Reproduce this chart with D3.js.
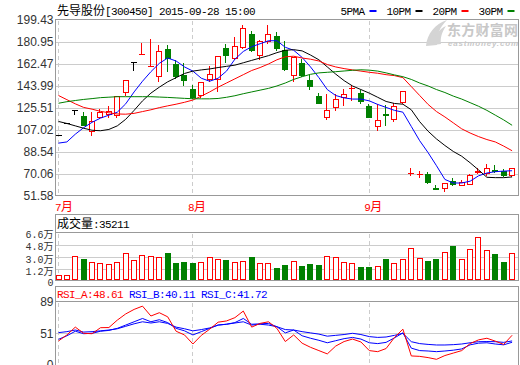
<!DOCTYPE html>
<html>
<head>
<meta charset="utf-8">
<script src="https://cdn.jsdelivr.net/npm/d3@7"></script>
<style>
  body { margin: 0; background: #fff; }
  svg { display: block; }
</style>
</head>
<body>
<div id="chart"></div>
<script>
// ---- data ----
const stockName = '先导股份';
const stockCode = '300450';
const stamp = '15:00';

const dates = [
  '2015-07-10','2015-07-13','2015-07-14','2015-07-15','2015-07-16','2015-07-17','2015-07-20','2015-07-21',
  '2015-07-22','2015-07-23','2015-07-24','2015-07-27','2015-07-28','2015-07-29','2015-07-30','2015-07-31',
  '2015-08-03','2015-08-04','2015-08-05','2015-08-06','2015-08-07','2015-08-10','2015-08-11','2015-08-12',
  '2015-08-13','2015-08-14','2015-08-17','2015-08-18','2015-08-19','2015-08-20','2015-08-21','2015-08-24',
  '2015-08-25','2015-08-26','2015-08-27','2015-08-28','2015-08-31',
  '2015-09-01','2015-09-02','2015-09-07','2015-09-08','2015-09-09','2015-09-10','2015-09-11','2015-09-14',
  '2015-09-15','2015-09-16','2015-09-17','2015-09-18','2015-09-21','2015-09-22','2015-09-23','2015-09-24',
  '2015-09-25','2015-09-28'
];

const openP  = [102.5,112.75,124.0,118.5,105.9,117.7,120.5,120.0,138.7,163.9,170.6,160.8,152.1,175.1,162.5,153.5,
                141.7,136.2,150.1,150.1,175.9,167.5,176.5,187.7,169.8,182.0,185.7,174.5,153.5,163.3,149.3,135.6,
                118.2,126.1,135.0,142.0,138.1,127.4,110.1,120.5,116.3,130.3,70.7,69.9,70.1,58.4,58.3,64.0,
                61.2,62.0,72.0,70.9,73.8,72.8,69.0];
const highP  = [102.5,112.75,124.0,121.9,122.0,124.5,127.0,135.5,149.2,163.9,180.2,183.7,178.2,178.5,166.1,163.3,
                145.1,147.5,161.1,169.2,179.3,185.1,195.5,190.4,182.9,195.0,189.3,182.0,168.5,166.9,153.0,138.1,
                137.3,137.3,141.5,145.1,140.9,129.0,128.9,127.7,129.7,140.0,75.1,72.3,71.7,61.1,62.7,66.7,
                65.3,69.8,75.1,78.4,77.6,74.5,75.3];
const lowP   = [102.5,112.75,120.3,111.2,102.5,117.0,118.0,118.0,136.2,157.7,170.6,160.8,147.9,156.3,151.0,144.6,
                134.3,134.5,147.9,140.2,163.9,167.0,176.0,173.5,166.9,180.1,174.5,157.7,148.4,152.5,141.7,130.0,
                116.5,124.1,127.7,132.5,129.7,117.9,107.3,111.5,114.8,130.0,69.5,67.3,62.5,57.4,56.0,60.6,
                60.6,61.3,70.8,69.5,71.8,68.5,68.5];
const closeP = [102.5,112.75,124.0,111.5,114.3,121.9,122.7,135.3,149.0,163.9,171.0,161.2,173.1,167.5,152.7,149.3,
                134.5,147.1,154.0,168.9,169.8,177.3,192.7,174.0,181.5,187.7,175.9,158.5,168.0,153.0,144.2,130.0,
                123.6,132.8,137.0,142.5,131.6,117.9,115.2,119.6,126.9,139.5,71.0,70.2,63.4,57.4,62.5,61.3,
                63.2,69.5,72.3,75.1,72.4,68.9,75.0];
const volume = [3600,3600,31400,27000,22000,20700,19300,22000,36200,25500,32400,30900,30000,35800,21200,22600,
                21200,22200,29500,27000,25500,22200,23600,30000,20700,20700,13900,18200,23600,16800,19700,18200,
                30900,30000,22200,20700,15300,15300,16800,27000,20700,27000,42600,28500,24100,27000,37200,46000,
                27000,41100,58700,39700,34300,22600,35211];

const ma5  = [96,97,103.5,109,113.5,117,119.5,122,129,139,148,156,163,167.5,165,160,
              156.5,150.5,148,150.5,156.5,166.5,173,177,179.5,182,182,176.5,174,168,160,151,
              141,136,134,133,133,131.5,128.5,126,123.5,122,110,98,88,77,65.5,62.5,
              62.5,64,68.5,70.9,72,72.5,72.8];
const ma10 = [114.2,112.5,110.5,108.5,106.8,106.4,107.5,110.5,116,123.5,131.5,138,143,147.5,151,154.5,
              156.5,157.5,158.3,159.5,160.5,161.5,163.5,165.5,167.5,169.5,172,174,174.5,173.5,170,166,
              160,154,148.5,144,141,138,134.5,131,129.3,128.7,124,114,106,99.5,94,89,
              85,79.5,73.5,67.3,67,67,67.6];
const ma20 = [136,132.5,129,126,124.5,122.7,121.5,120.5,120.3,121,122.5,124,125.8,127.3,128.7,130.3,
              132.2,135.5,139,143,146.5,150,153.5,157,159.5,162.5,166,168.5,169,167.5,166.5,165,
              162,160,158.6,157.5,156.5,155.5,154.7,153.5,152.7,151,143.5,136,128.5,122.5,118,113,
              108,104.5,101.5,99,97,93.5,89.6];
const ma30 = [129.5,130.8,131.8,132.7,133.4,134.2,134.6,135,135,135,135,135,134.7,134.4,134,133.6,
              133.3,133.2,133.2,133.5,134.5,135.8,137.5,139,140.5,142,144,146.5,149.5,151.8,153.8,155,
              155.5,156,156.6,157.2,157.6,157.3,156.5,155,153.3,151.8,149.5,146.5,144,141,138.5,135.5,
              133,130,127,123.5,119.5,115.5,111];

const rsiA = [41.7,49,58.5,51,50.5,57.8,58,67,74.5,80,84,72,76,71,53.5,49,
              38,48.5,56,64.5,66,70,78,58.5,63,65,57,41,49,39,34,30,
              26,35.5,41,44,40.5,30,28.7,32.5,46,56,23.5,23,21.5,19.4,24,27,
              30,38.5,43,45,41.5,37.5,48.61];
const rsiB = [43.7,48,53.5,50.5,51,53.5,54.5,57,61,65,69,65,67.5,64,57,54,
              49,53,57,61,62,64,69,62,62.5,63,59,51.5,55,48,45,42.5,
              39.5,42,44.5,46,44,39.5,38.5,40,45.5,51.5,33,30,29.5,28.7,29.5,30.5,
              32,37,39,39.5,38,37,40.11];
const rsiC = [51.8,53,55,52.5,53,54,55,56.5,59.5,62.5,65,63.5,65,63,58.5,56.5,
              54,55.5,57.5,61,62,63.5,65,61,62,61,59,55.5,55,53,51.5,50,
              47.5,48.5,49.5,51,49.5,47,46,46.5,48.5,51,40.8,38.5,37.5,36.8,36.8,37.2,
              38,39.5,40.8,41,40.8,40,41.72];

const priceTicks = [199.43, 180.95, 162.47, 143.99, 125.51, 107.02, 88.54, 70.06, 51.58];
const volTicks = [66000, 48000, 30000, 12000, 0];
const volTickLabels = ['6.6万', '4.8万', '3.0万', '1.2万', '0'];
const rsiTicks = [89, 51, 13];
const rsiTickLabels = ['89', '51', '0'];

const maNames = ['5PMA', '10PM', '20PM', '30PM'];
const maColors = ['#0000ff', '#000000', '#ff0000', '#008000'];

// ---- drawing ----
const RED = '#ff0000', GREEN = '#008000', BLUE = '#0000ff';
const MONO = "'Liberation Mono', 'DejaVu Sans Mono', monospace";
const CJK = "'Noto Sans CJK SC', sans-serif";
const SANS = "'Liberation Sans', Arial, sans-serif";

const width = 520, height = 365;
const L = 55.5, R = 518.5;
const n = dates.length;

const svg = d3.select('#chart').append('svg')
  .attr('width', width)
  .attr('height', height);

const crisp = v => Math.round(v) + 0.5;

const x = d3.scaleBand().domain(d3.range(n)).range([54.3, 516.3]);
const cx = i => x(i) + x.bandwidth() / 2;

const yP = d3.scaleLinear().domain([51.58, 199.43]).range([196, 20]);
const yV = d3.scaleLinear().domain([0, 66000]).range([277.5, 232.3]);
const yR = d3.scaleLinear().domain([13, 89]).range([364.6, 302]);

// text with CJK and latin runs
function mixed(sel, str, cjkSize, monoSize) {
  const runs = str.match(/[\u3000-\u9fff]+|[^\u3000-\u9fff]+/g);
  const ms = monoSize || 11;
  runs.forEach(r => {
    const cjk = /[\u3000-\u9fff]/.test(r);
    sel.append('tspan')
      .attr('font-family', cjk ? CJK : MONO)
      .attr('font-size', cjk ? (cjkSize || 12) : ms)
      .attr('letter-spacing', cjk ? 0 : (ms - 10) * -0.6)
      .text(r);
  });
  return sel;
}

// month starts
const monthStarts = dates.map((d, i) => i).filter(i => i === 0 || dates[i].slice(5, 7) !== dates[i - 1].slice(5, 7));

const panels = [
  {top: 19.5, bottom: 195.5, plotTop: 20},
  {top: 214.5, bottom: 280.5, plotTop: 232.5},
  {top: 286.5, bottom: 370, plotTop: 301.5}
];

// grids
const grid = svg.append('g').attr('stroke', '#cccccc').attr('shape-rendering', 'crispEdges');
priceTicks.slice(1, -1).forEach(t => {
  grid.append('line').attr('x1', L).attr('x2', R).attr('y1', crisp(yP(t))).attr('y2', crisp(yP(t)));
});
volTicks.slice(1, -1).forEach(t => {
  grid.append('line').attr('x1', L).attr('x2', R).attr('y1', crisp(yV(t))).attr('y2', crisp(yV(t)));
});
grid.append('line').attr('x1', L).attr('x2', R).attr('y1', crisp(yR(51))).attr('y2', crisp(yR(51)));

panels.forEach(p => {
  monthStarts.forEach(i => {
    grid.append('line')
      .attr('x1', crisp(cx(i) - 0.5)).attr('x2', crisp(cx(i) - 0.5))
      .attr('y1', p.plotTop + 1).attr('y2', p.bottom)
      .attr('stroke-dasharray', '4,3');
  });
});

// watermark
const wm = svg.append('g');
wm.append('path')
  .attr('d', 'M426,46 C427,34 435,24 447,20 C440,27 436,35 437,45 Z')
  .attr('fill', '#d4d4d4');
wm.append('path')
  .attr('d', 'M433,45 C434,36 439,29 446,26 C442,32 440,38 441,44 Z')
  .attr('fill', '#d4d4d4');
wm.append('text')
  .attr('x', 447).attr('y', 34.5)
  .attr('font-family', CJK).attr('font-size', 14).attr('font-weight', 'bold')
  .attr('fill', '#c8c8c8')
  .attr('textLength', 71)
  .text('东方财富网');
wm.append('text')
  .attr('x', 448).attr('y', 46)
  .attr('font-family', SANS).attr('font-size', 8).attr('font-weight', 'bold').attr('font-style', 'italic')
  .attr('fill', '#c8c8c8')
  .attr('textLength', 70)
  .text('eastmoney.com');

// panel borders
const borders = svg.append('g').attr('fill', 'none').attr('stroke', '#999999').attr('shape-rendering', 'crispEdges');
panels.forEach(p => {
  borders.append('rect').attr('x', L).attr('y', p.top).attr('width', R - L).attr('height', p.bottom - p.top);
});
borders.append('line').attr('x1', L).attr('x2', R).attr('y1', 232.5).attr('y2', 232.5);
borders.append('line').attr('x1', L).attr('x2', R).attr('y1', 301.5).attr('y2', 301.5);

// title
mixed(svg.append('text').attr('x', 57).attr('y', 15).attr('fill', '#000'),
  `${stockName}[${stockCode}] ${dates[n - 1]} ${stamp}`);

// legend
maNames.forEach((name, k) => {
  const lx = 340.5 + k * 46;
  mixed(svg.append('text').attr('x', lx).attr('y', 15).attr('fill', '#000'), name);
  svg.append('rect').attr('x', lx + 29).attr('y', 10).attr('width', 7).attr('height', 2).attr('fill', maColors[k]);
});

// y labels
svg.append('g').selectAll('text').data(priceTicks).join('text')
  .attr('x', 53.5).attr('y', d => Math.min(yP(d), 195.5)).attr('dy', '0.36em')
  .attr('text-anchor', 'end')
  .attr('font-family', SANS).attr('font-size', 12).attr('fill', '#333')
  .text(d => d.toFixed(2));

volTicks.forEach((t, k) => {
  const yy = t === 0 ? 280.5 : yV(t);
  mixed(svg.append('text').attr('x', 53.5).attr('y', yy).attr('dy', '0.36em')
    .attr('text-anchor', 'end').attr('fill', '#333'), volTickLabels[k], 10, 10);
});

svg.append('g').selectAll('text').data(rsiTicks).join('text')
  .attr('x', 53.5).attr('y', d => yR(d)).attr('dy', '0.36em')
  .attr('text-anchor', 'end')
  .attr('font-family', SANS).attr('font-size', 12).attr('fill', '#333')
  .text((d, k) => rsiTickLabels[k]);

// month labels
monthStarts.forEach(i => {
  const label = (+dates[i].slice(5, 7)) + '月';
  mixed(svg.append('text').attr('x', Math.max(cx(i) - 5, 55)).attr('y', 211).attr('fill', RED), label);
});

// headers
mixed(svg.append('text').attr('x', 57).attr('y', 228).attr('fill', '#000'), '成交量:' + volume[n - 1]);
const rh = svg.append('text').attr('x', 57).attr('y', 298)
  .attr('font-family', MONO).attr('font-size', 11).attr('letter-spacing', -0.6);
rh.append('tspan').attr('fill', RED).text('RSI_A:' + rsiA[n - 1].toFixed(2) + ' ');
rh.append('tspan').attr('fill', BLUE).text('RSI_B:' + rsiB[n - 1].toFixed(2) + ' ');
rh.append('tspan').attr('fill', BLUE).text('RSI_C:' + rsiC[n - 1].toFixed(2));

// candles
const bars = dates.map((d, i) => ({i, o: openP[i], h: highP[i], l: lowP[i], c: closeP[i], v: volume[i]}));
const colorOf = d => d.c > d.o ? RED : d.c < d.o ? GREEN : '#000';

const cg = svg.append('g').attr('shape-rendering', 'crispEdges');
bars.forEach(d => {
  const col = colorOf(d);
  const left = Math.round(cx(d.i) - 3);
  const mid = left + 2.5;
  cg.append('line')
    .attr('x1', mid).attr('x2', mid)
    .attr('y1', Math.round(yP(d.h))).attr('y2', Math.round(yP(d.l)) + 1)
    .attr('stroke', col);
  const top = Math.round(yP(Math.max(d.o, d.c)));
  const bot = Math.round(yP(Math.min(d.o, d.c)));
  if (bot - top < 1) {
    cg.append('line')
      .attr('x1', left).attr('x2', left + 6)
      .attr('y1', top + 0.5).attr('y2', top + 0.5)
      .attr('stroke', col);
  } else if (col === RED) {
    cg.append('rect')
      .attr('x', left + 0.5).attr('y', top + 0.5)
      .attr('width', 5).attr('height', bot - top)
      .attr('fill', '#fff').attr('stroke', RED);
  } else {
    cg.append('rect')
      .attr('x', left).attr('y', top)
      .attr('width', 6).attr('height', bot - top + 1)
      .attr('fill', GREEN);
  }
});

// moving averages
const line = d3.line().x((d, i) => cx(i)).y(d => yP(d));
[ma5, ma10, ma20, ma30].forEach((s, k) => {
  svg.append('path').datum(s)
    .attr('d', line)
    .attr('fill', 'none')
    .attr('stroke', maColors[k])
    .attr('stroke-width', 1);
});

// volume
const vg = svg.append('g').attr('shape-rendering', 'crispEdges');
bars.forEach(d => {
  const left = Math.round(cx(d.i) - 3);
  const top = Math.round(yV(d.v));
  if (d.c >= d.o) {
    vg.append('rect')
      .attr('x', left + 0.5).attr('y', top + 0.5)
      .attr('width', 5).attr('height', 279 - top)
      .attr('fill', '#fff').attr('stroke', RED);
  } else {
    vg.append('rect')
      .attr('x', left).attr('y', top)
      .attr('width', 6).attr('height', 280 - top)
      .attr('fill', GREEN);
  }
});

// RSI
const rline = d3.line().x((d, i) => cx(i)).y(d => yR(d));
[[rsiC, BLUE], [rsiB, BLUE], [rsiA, RED]].forEach(([s, col]) => {
  svg.append('path').datum(s)
    .attr('d', rline)
    .attr('fill', 'none')
    .attr('stroke', col)
    .attr('stroke-width', 1);
});
</script>
</body>
</html>
